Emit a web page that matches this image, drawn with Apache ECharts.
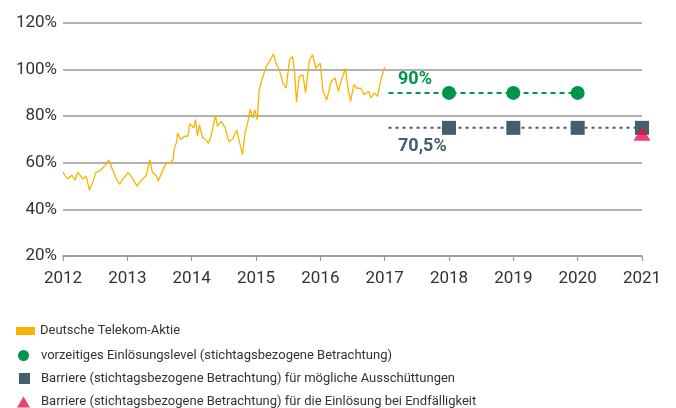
<!DOCTYPE html>
<html>
<head>
<meta charset="utf-8">
<script src="https://cdn.jsdelivr.net/npm/echarts@6/dist/echarts.min.js"></script>
<style>
  html, body { margin: 0; padding: 0; background: #fff; }
  #main { width: 676px; height: 408px; }
</style>
</head>
<body>
<div id="main"></div>
<script>
// Kursverlauf Deutsche Telekom (in % vom Startwert)
var stockDates = [2012.00, 2012.03, 2012.07, 2012.14, 2012.19, 2012.23, 2012.31, 2012.36, 2012.41, 2012.46,
    2012.51, 2012.59, 2012.67, 2012.71, 2012.77, 2012.82, 2012.88, 2012.93, 2013.01, 2013.06,
    2013.12, 2013.15, 2013.21, 2013.29, 2013.35, 2013.39, 2013.45, 2013.48, 2013.54, 2013.57,
    2013.61, 2013.66, 2013.71, 2013.73, 2013.77, 2013.78, 2013.83, 2013.89, 2013.94, 2013.97,
    2014.03, 2014.06, 2014.09, 2014.12, 2014.17, 2014.22, 2014.26, 2014.30, 2014.37, 2014.40,
    2014.46, 2014.52, 2014.58, 2014.64, 2014.70, 2014.74, 2014.79, 2014.83, 2014.87, 2014.91,
    2014.95, 2014.98, 2015.02, 2015.05, 2015.10, 2015.16, 2015.21, 2015.27, 2015.31, 2015.36,
    2015.42, 2015.47, 2015.52, 2015.57, 2015.60, 2015.63, 2015.67, 2015.73, 2015.77, 2015.83,
    2015.88, 2015.93, 2016.00, 2016.04, 2016.10, 2016.17, 2016.23, 2016.28, 2016.32, 2016.39,
    2016.43, 2016.47, 2016.52, 2016.57, 2016.63, 2016.68, 2016.75, 2016.79, 2016.84, 2016.89,
    2016.94, 2016.99, 2017.00];
var stockValues = [56, 54.5, 53.2, 54.6, 52.6, 56, 53, 54.3, 48.3, 51.5,
    55.8, 56.9, 59.3, 61.2, 57, 53.6, 50.8, 53, 55.8, 54.3,
    51.5, 50, 52.2, 54.3, 61.2, 55.8, 54.6, 52.2, 56, 55.8,
    60.3, 59.7, 61.2, 66, 69.3, 72.8, 70, 71.4, 71.4, 76.8,
    75, 78.5, 71.4, 76.4, 70.7, 70, 68.3, 71.4, 80.3, 75.7,
    77.8, 75, 69, 70.3, 74, 69.3, 63.6, 72.8, 77, 83,
    79.3, 82.8, 78.5, 91.4, 96.4, 101.3, 103.5, 106.7, 102.7, 100,
    94.2, 92, 104.2, 105.6, 98.5, 86, 97, 97.8, 90, 104.2,
    106.3, 100.6, 102.7, 90.7, 87, 95, 96.4, 90.7, 95, 100.4,
    92, 86.4, 93.5, 92, 92, 89.2, 90.7, 87.8, 90, 88.5,
    95.6, 100, 101];

// Beobachtungstermine und Schwellen
var lineStart = 2017.06;
var callDates = [2018, 2019, 2020];
var callLevel = 90;
var barrierDates = [2018, 2019, 2020, 2021];
var barrierLevel = 75;
var finalDate = 2021;
var finalLevel = 72.5;
var callLabel = '90%';
var barrierLabel = '70,5%';

var names = [
    'Deutsche Telekom-Aktie',
    'vorzeitiges Einlösungslevel (stichtagsbezogene Betrachtung)',
    'Barriere (stichtagsbezogene Betrachtung) für mögliche Ausschüttungen',
    'Barriere (stichtagsbezogene Betrachtung) für die Einlösung bei Endfälligkeit'
];

var cYellow = '#f8b400';
var cGreen = '#00964a';
var cSlate = '#455e6c';
var cRed = '#e8124a';
var fontName = 'Roboto';

function zip(xs, ys) {
    var out = [];
    for (var i = 0; i < xs.length; i++) out.push([xs[i], ys[i]]);
    return out;
}

// Linie mit unsichtbarem Startpunkt
function levelData(dates, level) {
    var d = [{ value: [lineStart, level], symbol: 'none' }];
    dates.forEach(function (x) { d.push([x, level]); });
    return d;
}

function legendAt(name, icon, left, centerY, w, h, padLeft) {
    return {
        data: [{ name: name, icon: icon }],
        orient: 'vertical',
        left: left,
        top: centerY - 8,
        padding: 0,
        itemWidth: w,
        itemHeight: h,
        selectedMode: false,
        textStyle: { fontFamily: fontName, fontSize: 13, color: '#333', lineHeight: 16, padding: [0, 0, 0, padLeft] }
    };
}

var myChart = echarts.init(document.getElementById('main'));

var option = {
    animation: false,
    backgroundColor: '#fff',
    grid: { left: 63, right: 34, top: 23, bottom: 152 },
    legend: [
        legendAt(names[0], 'rect', 16, 331, 19, 8, 0),
        legendAt(names[1], 'circle', 18, 355.5, 11, 11, 7),
        legendAt(names[2], 'rect', 19, 378.5, 11, 11, 6),
        legendAt(names[3], 'triangle', 17, 402, 13, 11, 6)
    ],
    xAxis: {
        type: 'value',
        min: 2012,
        max: 2021,
        interval: 1,
        axisLine: { show: true, lineStyle: { color: '#999', width: 1.5 } },
        axisTick: { show: true, length: 5, lineStyle: { color: '#999', width: 1.2 } },
        axisLabel: {
            fontFamily: fontName, fontSize: 17, color: '#333', margin: 14,
            formatter: function (v) { return String(v); }
        },
        splitLine: { show: false }
    },
    yAxis: {
        type: 'value',
        min: 20,
        max: 120,
        interval: 20,
        axisLine: { show: false },
        axisTick: { show: false },
        axisLabel: { fontFamily: fontName, fontSize: 17, color: '#333', margin: 6, formatter: '{value}%' },
        splitLine: { lineStyle: { color: '#999', width: 1.5 } }
    },
    series: [
        {
            name: names[0],
            type: 'line',
            data: zip(stockDates, stockValues),
            showSymbol: false,
            symbol: 'none',
            color: cYellow,
            lineStyle: { color: cYellow, width: 1.3 },
            z: 3
        },
        {
            name: names[1],
            type: 'line',
            data: levelData(callDates, callLevel),
            symbol: 'circle',
            symbolSize: 14,
            color: cGreen,
            itemStyle: { color: cGreen },
            lineStyle: { color: cGreen, width: 2, type: [5, 4] },
            markPoint: {
                symbol: 'circle',
                symbolSize: 1,
                itemStyle: { color: 'rgba(0,0,0,0)' },
                label: {
                    show: true, position: 'right', distance: 0, offset: [9, -13],
                    formatter: callLabel, fontFamily: fontName, fontSize: 18, fontWeight: 'bold', color: cGreen
                },
                data: [{ coord: [lineStart, callLevel] }]
            },
            z: 4
        },
        {
            name: names[2],
            type: 'line',
            data: levelData(barrierDates, barrierLevel),
            symbol: 'rect',
            symbolSize: 14,
            color: cSlate,
            itemStyle: { color: cSlate },
            lineStyle: { color: cSlate, width: 2, type: [3, 4] },
            markPoint: {
                symbol: 'circle',
                symbolSize: 1,
                itemStyle: { color: 'rgba(0,0,0,0)' },
                label: {
                    show: true, position: 'right', distance: 0, offset: [9, 19],
                    formatter: barrierLabel, fontFamily: fontName, fontSize: 18, fontWeight: 'bold', color: cSlate
                },
                data: [{ coord: [lineStart, barrierLevel] }]
            },
            z: 4
        },
        {
            name: names[3],
            type: 'scatter',
            data: [[finalDate, finalLevel]],
            symbol: 'triangle',
            symbolSize: [17, 14],
            color: cRed,
            itemStyle: { color: cRed },
            z: 5
        }
    ]
};

myChart.setOption(option);
</script>
</body>
</html>
